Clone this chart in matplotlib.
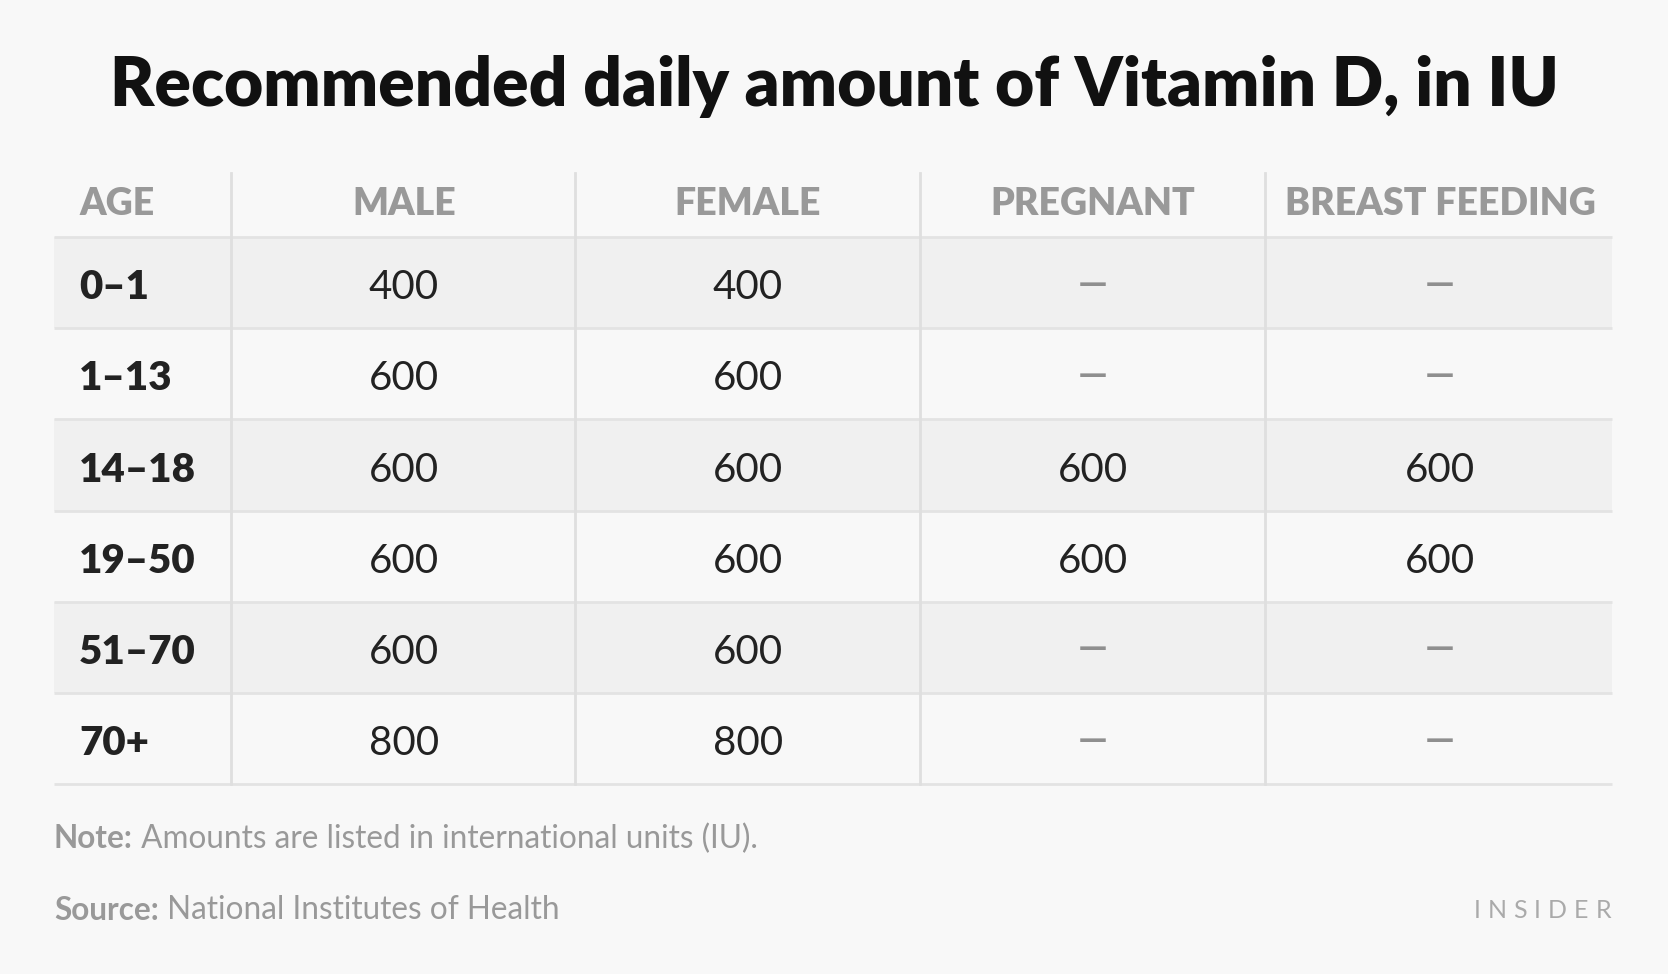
import matplotlib
matplotlib.use("Agg")
import matplotlib.pyplot as plt
from matplotlib.patches import Rectangle

# table contents
columns = ["AGE", "MALE", "FEMALE", "PREGNANT", "BREAST FEEDING"]
ages = ["0\u20131", "1\u201313", "14\u201318", "19\u201350", "51\u201370", "70+"]
male = [400, 600, 600, 600, 600, 800]
female = [400, 600, 600, 600, 600, 800]
pregnant = [None, None, 600, 600, None, None]
breast_feeding = [None, None, 600, 600, None, None]

title = "Recommended daily amount of Vitamin D, in IU"
note_label, note_text = "Note:", " Amounts are listed in international units (IU)."
source_label, source_text = "Source:", " National Institutes of Health"
brand = "INSIDER"

W, H = 1668, 974
BG = "#f8f8f8"
SHADE = "#f0f0f0"
LINE = "#e3e3e3"
DARK = "#222222"
GREY = "#999999"
FONT = ["Lato", "DejaVu Sans"]

plt.rcParams["font.family"] = FONT

fig = plt.figure(figsize=(W / 100, H / 100), dpi=100, facecolor=BG)
ax = fig.add_axes([0, 0, 1, 1])
ax.set_xlim(0, W)
ax.set_ylim(H, 0)
ax.axis("off")
ax.set_facecolor(BG)

# layout (pixels)
left, right = 54, 1612
top, head_bot = 173, 237
row_h = 91.2
col_edges = [left, 231, 575.5, 920, 1265, right]
col_x = [79, 404, 748, 1093, 1440]

ax.text(W / 2, 86, title, ha="center", va="center", fontsize=48.7,
        fontweight="heavy", color="#111111")

# header
for i, name in enumerate(columns):
    ax.text(col_x[i], (top + head_bot) / 2 - 1, name,
            ha="left" if i == 0 else "center", va="center",
            fontsize=27, fontweight="heavy", color=GREY)

series = [male, female, pregnant, breast_feeding]
n = len(ages)
for r in range(n):
    y0 = head_bot + r * row_h
    if r % 2 == 0:
        ax.add_patch(Rectangle((left, y0), right - left, row_h,
                               facecolor=SHADE, edgecolor="none", zorder=0))
    yc = y0 + row_h / 2 + 5
    ax.text(col_x[0], yc, ages[r], ha="left", va="center",
            fontsize=29, fontweight="heavy", color=DARK)
    for c, s in enumerate(series):
        v = s[r]
        if v is None:
            ax.text(col_x[c + 1], yc - 3, "\u2014", ha="center", va="center",
                    fontsize=27, fontweight="bold", color="#8f8f8f")
        else:
            ax.text(col_x[c + 1], yc, str(v), ha="center", va="center",
                    fontsize=29, color=DARK)

# row lines
for r in range(n + 1):
    y = head_bot + r * row_h
    ax.plot([left, right], [y, y], color=LINE, lw=2, zorder=1,
            solid_capstyle="butt")
bottom = head_bot + n * row_h
for x in col_edges[1:-1]:
    ax.plot([x, x], [top, bottom], color="#dfdfdf", lw=2, zorder=1)

fig.canvas.draw()
renderer = fig.canvas.get_renderer()
inv = ax.transData.inverted()


def label_pair(x, y, bold, rest):
    t = ax.text(x, y, bold, ha="left", va="center", fontsize=22.7,
                fontweight="bold", color=GREY)
    bb = t.get_window_extent(renderer)
    x2 = inv.transform((bb.x1, bb.y0))[0]
    ax.text(x2, y, rest, ha="left", va="center", fontsize=22.7, color=GREY)


label_pair(left, 839, note_label, note_text)
label_pair(left, 910, source_label, source_text)

# letter-spaced brand mark, right aligned
letters = []
widths = []
for ch in brand:
    t = ax.text(0, 911, ch, ha="left", va="center", fontsize=18,
                color="#aaaaaa")
    bb = t.get_window_extent(renderer)
    widths.append(bb.width)
    letters.append(t)
track = 7
total = sum(widths) + track * (len(brand) - 1)
x = right - 1 - total
for t, w in zip(letters, widths):
    t.set_x(x)
    x += w + track

fig.savefig("out.png", dpi=100, facecolor=BG)
